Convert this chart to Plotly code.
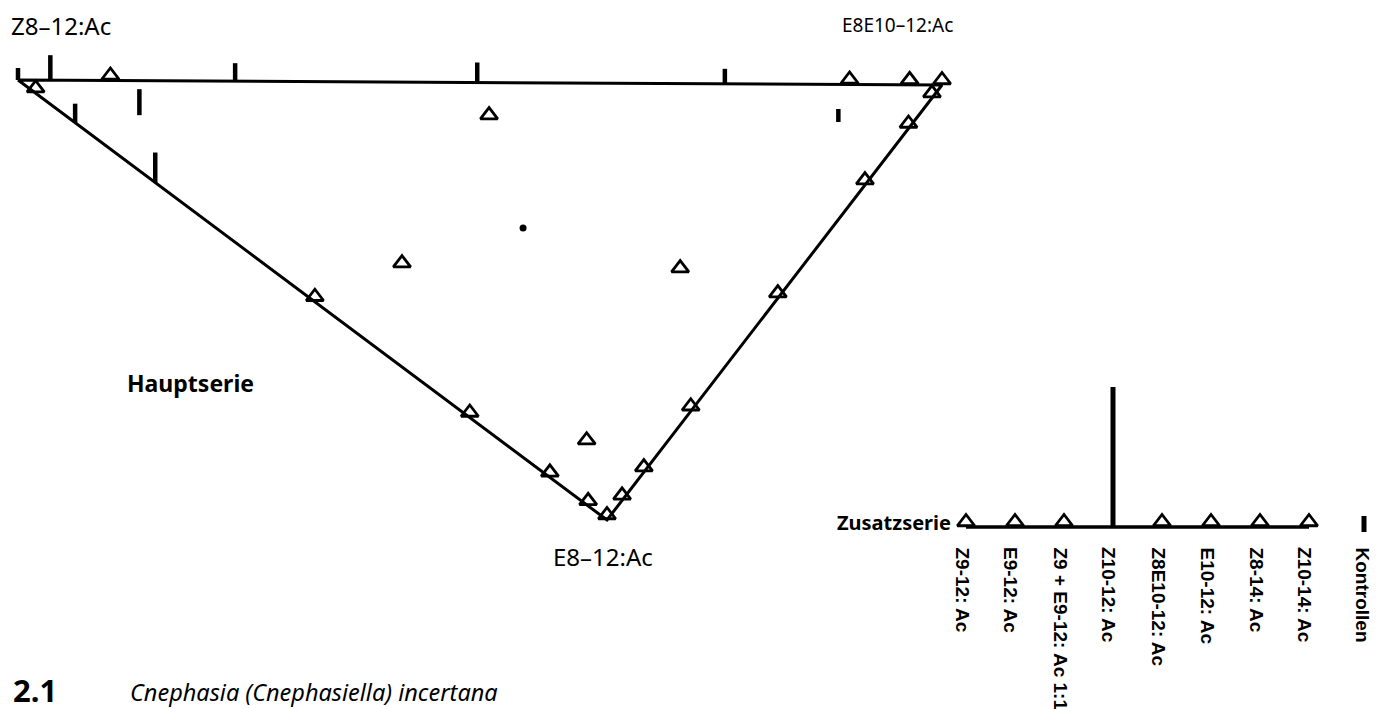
import plotly.graph_objects as go

# Hauptserie: Mischungsanteile (E8E10-12:Ac, E8-12:Ac), Rest = Z8-12:Ac
dreieck_ee = [0.10, 0.90, 0.965, 1.00,           # obere Kante
              0.00, 0.00, 0.00, 0.00, 0.00,        # linke Kante
              0.97, 0.90, 0.77, 0.51, 0.25, 0.11, 0.045,  # rechte Kante
              0.455, 0.144, 0.44, 0.087]           # innen
dreieck_e8 = [0.00, 0.00, 0.00, 0.00,
              0.03, 0.504, 0.767, 0.903, 0.968,
              0.03, 0.10, 0.23, 0.49, 0.75, 0.89, 0.955,
              0.086, 0.426, 0.434, 0.829]
# Spitze unten (E8 rein)
spitze_ee = [0.0]
spitze_e8 = [1.0]

# Kontrollen (Balken): Position + Höhe
kontr_ee = [0.00, 0.035, 0.235, 0.497, 0.765, 0.00, 0.00, 0.081, 0.833]
kontr_e8 = [0.00, 0.00, 0.00, 0.00, 0.00, 0.097, 0.233, 0.079, 0.086]
kontr_hoehe = [12, 25, 18, 20, 15, 19, 30, 26, 13]
punkt_ee = [0.3346]
punkt_e8 = [0.3326]

# Zusatzserie
zusatz_namen = ["Z9-12: Ac", "E9-12: Ac", "Z9 + E9-12: Ac 1:1", "Z10-12: Ac",
                "Z8E10-12: Ac", "E10-12: Ac", "Z8-14: Ac", "Z10-14: Ac"]
zusatz_fang = [0, 0, 0, 140, 0, 0, 0, 0]

# Eckpunkte des Dreiecks (Zeichenkoordinaten)
Z = (18, 80)
EE = (942, 85)
E8 = (607, 520)


def lage(ee, e8):
    z = 1 - ee - e8
    x = z * Z[0] + ee * EE[0] + e8 * E8[0]
    y = z * Z[1] + ee * EE[1] + e8 * E8[1]
    return x, y


dreieck_marker = dict(symbol="triangle-up-open", size=15, color="black",
                      line=dict(width=2.8, color="black"))

fig = go.Figure()

# Dreieck
ecken = [Z, EE, E8, Z]
fig.add_trace(go.Scatter(x=[p[0] for p in ecken], y=[p[1] for p in ecken], mode="lines",
                         line=dict(color="black", width=3), hoverinfo="skip"))

# Kontrollen als Balken
bx, by = [], []
for ee, e8, h in zip(kontr_ee, kontr_e8, kontr_hoehe):
    x, y = lage(ee, e8)
    bx += [x, x, None]
    by += [y, y - h, None]
fig.add_trace(go.Scatter(x=bx, y=by, mode="lines", line=dict(color="black", width=4.5),
                         hoverinfo="skip"))
px, py = zip(*[lage(a, b) for a, b in zip(punkt_ee, punkt_e8)])
fig.add_trace(go.Scatter(x=px, y=py, mode="markers",
                         marker=dict(color="black", size=7), hoverinfo="skip"))

# Fänge = 0 als Dreiecke
tx, ty = zip(*[lage(a, b) for a, b in zip(dreieck_ee + spitze_ee, dreieck_e8 + spitze_e8)])
fig.add_trace(go.Scatter(x=tx, y=[v - 5 for v in ty], mode="markers",
                         marker=dreieck_marker, hoverinfo="skip"))

# Zusatzserie
zx0, zdx, zy = 966, 49, 527
zx = [zx0 + i * zdx for i in range(len(zusatz_namen))]
fig.add_trace(go.Scatter(x=[zx[0], zx[-1]], y=[zy, zy], mode="lines",
                         line=dict(color="black", width=3.5), hoverinfo="skip"))
zbx, zby, zox = [], [], []
for x, f in zip(zx, zusatz_fang):
    if f > 0:
        zbx += [x, x, None]
        zby += [zy, zy - f, None]
    else:
        zox.append(x)
fig.add_trace(go.Scatter(x=zbx, y=zby, mode="lines", line=dict(color="black", width=5),
                         hoverinfo="skip"))
fig.add_trace(go.Scatter(x=zox, y=[zy - 5] * len(zox), mode="markers",
                         marker=dreieck_marker, hoverinfo="skip"))
# Legende Kontrollen
fig.add_trace(go.Scatter(x=[1364, 1364], y=[516, 532], mode="lines",
                         line=dict(color="black", width=5), hoverinfo="skip"))

schrift = "Noto Sans, Open Sans, sans-serif"
fett = "Liberation Sans Narrow, Liberation Sans, Arial, sans-serif"
notes = [
    dict(x=9, y=25, text="Z8–12:Ac", xanchor="left", font=dict(size=24, family=schrift)),
    dict(x=955, y=25, text="E8E10–12:Ac", xanchor="right", font=dict(size=19, family=schrift)),
    dict(x=603, y=556, text="E8–12:Ac", xanchor="center", font=dict(size=24, family=schrift)),
    dict(x=125, y=383, text="<b>Hauptserie</b>", xanchor="left", font=dict(size=23, family=schrift)),
    dict(x=953, y=522, text="<b>Zusatzserie</b>", xanchor="right", font=dict(size=20, family=schrift)),
    dict(x=11, y=690, text="<b>2.1</b>", xanchor="left", font=dict(size=31, family=schrift)),
    dict(x=128, y=692, text="<i>Cnephasia (Cnephasiella) incertana</i>", xanchor="left",
         font=dict(size=23.5, family=schrift)),
]
for x, name in zip(zx, zusatz_namen):
    notes.append(dict(x=x - 4, y=545, text="<b>" + name + "</b>", textangle=90,
                      xanchor="center", yanchor="top", font=dict(size=19, family=fett)))
notes.append(dict(x=1362, y=545, text="<b>Kontrollen</b>", textangle=90,
                  xanchor="center", yanchor="top", font=dict(size=19, family=fett)))
for n in notes:
    n.setdefault("yanchor", "middle")
    fig.add_annotation(xref="x", yref="y", showarrow=False, font_color="black", **n)

# Seitenrand des Browsers (8 px) ausgleichen: Datenkoordinate = Bildpunkt
fig.update_layout(width=1381, height=709, margin=dict(l=0, r=0, t=0, b=0),
                  paper_bgcolor="white", plot_bgcolor="white", showlegend=False,
                  xaxis=dict(range=[8, 1389], visible=False),
                  yaxis=dict(range=[717, 8], visible=False))
fig.write_html("out.html")
